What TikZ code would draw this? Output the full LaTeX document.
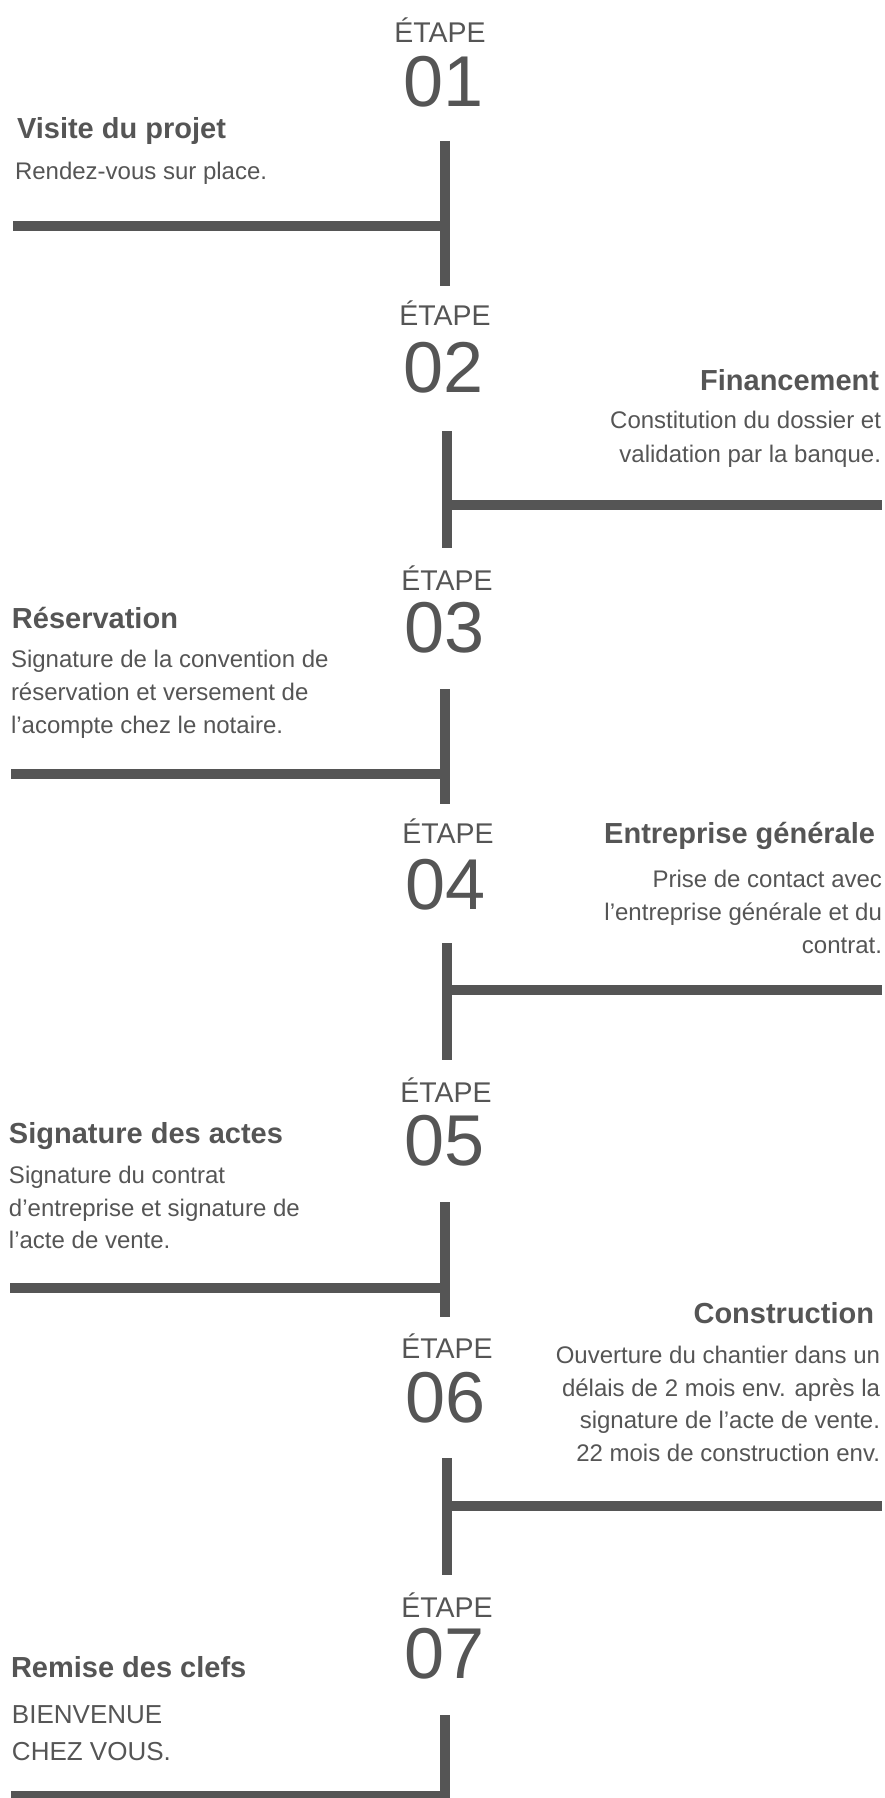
\documentclass[tikz,border=0pt]{standalone}
\usepackage{fontspec}
\setmainfont{Liberation Sans}
\usetikzlibrary{positioning}
\definecolor{ink}{HTML}{555555}

\begin{document}
\begin{tikzpicture}[x=1pt, y=-1pt,
  every node/.style={inner sep=0pt, outer sep=0pt, text=ink},
  steplabel/.style={anchor=base, font=\fontsize{28.5}{30}\selectfont},
  stepnum/.style={anchor=base, font=\fontsize{72}{72}\selectfont},
  title/.style={font=\fontsize{29}{32}\selectfont\bfseries},
  body/.style={font=\fontsize{24}{28}\selectfont},
  bigbody/.style={font=\fontsize{26}{30}\selectfont},
  rail/.style={draw=ink, line width=10.5pt}
]
  \useasboundingbox (0,0) rectangle (885,1798);
  \clip (0,0) rectangle (885,1798);

  % step headings
  \node[steplabel] (lab1) at (440,43) {ÉTAPE};
  \node[stepnum] (num1) at (444,107) {01};
  \node[steplabel] (lab2) at (445,325) {ÉTAPE};
  \node[stepnum] (num2) at (444,392) {02};
  \node[steplabel] (lab3) at (447,590) {ÉTAPE};
  \node[stepnum] (num3) at (445,652) {03};
  \node[steplabel] (lab4) at (448,843) {ÉTAPE};
  \node[stepnum] (num4) at (446,909) {04};
  \node[steplabel] (lab5) at (446,1102) {ÉTAPE};
  \node[stepnum] (num5) at (445,1165) {05};
  \node[steplabel] (lab6) at (447,1358) {ÉTAPE};
  \node[stepnum] (num6) at (446,1422) {06};
  \node[steplabel] (lab7) at (447,1617) {ÉTAPE};
  \node[stepnum] (num7) at (445,1678) {07};

  % texts
  \node[title, anchor=base west] (visite) at (17,139) {Visite du projet};
  \node[body, anchor=base west] (visiteA) at (15,179) {Rendez-vous sur place.};

  \node[title, anchor=base east] (finance) at (879,390) {Financement};
  \node[body, anchor=base east] (financeA) at (881,428) {Constitution du dossier et};
  \node[body, anchor=base east] (financeB) at (881,462) {validation par la banque.};

  \node[title, anchor=base west] (reserv) at (12,628) {Réservation};
  \node[body, anchor=base west] (reservA) at (11,667) {Signature de la convention de};
  \node[body, anchor=base west] (reservB) at (11,700) {réservation et versement de};
  \node[body, anchor=base west] (reservC) at (11,733) {l’acompte chez le notaire.};

  \node[title, anchor=base east] (entre) at (875,843) {Entreprise générale};
  \node[body, anchor=base east] (entreA) at (882,887) {Prise de contact avec};
  \node[body, anchor=base east] (entreB) at (882,920) {l’entreprise générale et du};
  \node[body, anchor=base east] (entreC) at (882,953) {contrat.};

  \node[title, anchor=base west] (actes) at (9,1143) {Signature des actes};
  \node[body, anchor=base west] (actesA) at (9,1183) {Signature du contrat};
  \node[body, anchor=base west] (actesB) at (9,1216) {d’entreprise et signature de};
  \node[body, anchor=base west] (actesC) at (9,1248) {l’acte de vente.};

  \node[title, anchor=base east] (constr) at (874,1323) {Construction};
  \node[body, anchor=base east] (constrA) at (880,1363) {Ouverture du chantier dans un};
  \node[body, anchor=base east] (constrB) at (880,1396) {délais de 2 mois env. après la};
  \node[body, anchor=base east] (constrC) at (880,1428) {signature de l’acte de vente.};
  \node[body, anchor=base east] (constrD) at (880,1461) {22 mois de construction env.};

  \node[title, anchor=base west] (clefs) at (11,1677) {Remise des clefs};
  \node[bigbody, anchor=base west] (clefsA) at (12,1723) {BIENVENUE};
  \node[bigbody, anchor=base west] (clefsB) at (12,1760) {CHEZ VOUS.};

  % timeline
  \coordinate (t1) at (445,141);  \coordinate (u1) at (445,286);  \coordinate (e1) at (13,226);
  \coordinate (t2) at (447,431);  \coordinate (u2) at (447,548);  \coordinate (e2) at (882,505);
  \coordinate (t3) at (445,689);  \coordinate (u3) at (445,804);  \coordinate (e3) at (11,774);
  \coordinate (t4) at (447,943);  \coordinate (u4) at (447,1060); \coordinate (e4) at (882,990);
  \coordinate (t5) at (445,1202); \coordinate (u5) at (445,1317); \coordinate (e5) at (10,1288);
  \coordinate (t6) at (447,1458); \coordinate (u6) at (447,1575); \coordinate (e6) at (882,1506);
  \coordinate (t7) at (445,1715); \coordinate (u7) at (445,1805); \coordinate (e7) at (11,1796);

  \draw[rail] (t1) -- (u1);  \draw[rail] (e1) -- (e1 -| t1);
  \draw[rail] (t2) -- (u2);  \draw[rail] (e2 -| t2) -- (e2);
  \draw[rail] (t3) -- (u3);  \draw[rail] (e3) -- (e3 -| t3);
  \draw[rail] (t4) -- (u4);  \draw[rail] (e4 -| t4) -- (e4);
  \draw[rail] (t5) -- (u5);  \draw[rail] (e5) -- (e5 -| t5);
  \draw[rail] (t6) -- (u6);  \draw[rail] (e6 -| t6) -- (e6);
  \draw[rail] (t7) -- (u7);  \draw[rail] (e7) -- (e7 -| t7);
\end{tikzpicture}
\end{document}
